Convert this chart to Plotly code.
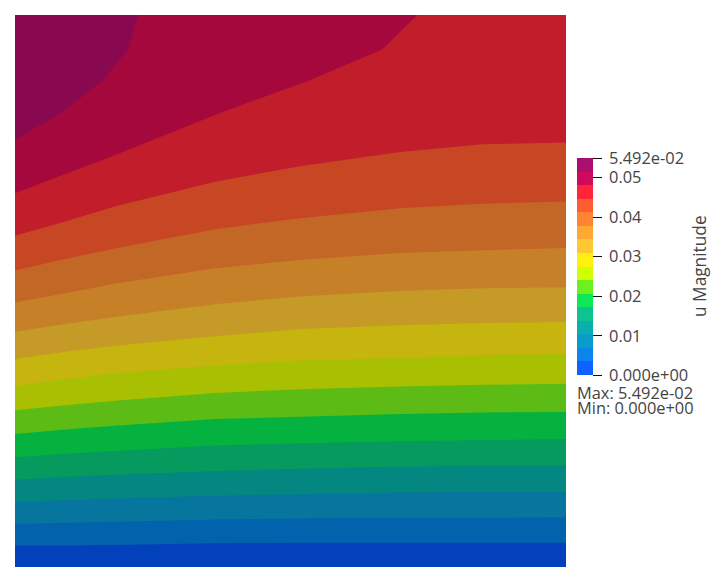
import plotly.graph_objects as go


# =====================================================
# DATA
# =====================================================

u_max = 0.05492

stations = [0.0, 0.091, 0.181, 0.363, 0.517, 0.699, 0.849, 1.0]

# contour heights along the stations, lowest band first
level_01 = [0.039, 0.039, 0.040, 0.043, 0.044, 0.044, 0.044, 0.044]
level_02 = [0.078, 0.080, 0.082, 0.086, 0.088, 0.089, 0.089, 0.090]
level_03 = [0.118, 0.121, 0.124, 0.129, 0.132, 0.135, 0.136, 0.136]
level_04 = [0.158, 0.163, 0.167, 0.174, 0.178, 0.182, 0.183, 0.184]
level_05 = [0.199, 0.205, 0.210, 0.220, 0.224, 0.228, 0.230, 0.232]
level_06 = [0.241, 0.249, 0.256, 0.268, 0.272, 0.277, 0.280, 0.281]
level_07 = [0.284, 0.293, 0.301, 0.315, 0.322, 0.327, 0.330, 0.332]
level_08 = [0.328, 0.340, 0.351, 0.365, 0.374, 0.379, 0.384, 0.386]
level_09 = [0.377, 0.390, 0.401, 0.418, 0.431, 0.438, 0.442, 0.444]
level_10 = [0.426, 0.440, 0.453, 0.476, 0.490, 0.500, 0.505, 0.507]
level_11 = [0.479, 0.496, 0.513, 0.541, 0.556, 0.569, 0.574, 0.578]
level_12 = [0.537, 0.558, 0.577, 0.612, 0.632, 0.650, 0.658, 0.662]
level_13 = [0.600, 0.626, 0.653, 0.698, 0.726, 0.752, 0.766, 0.769]

# the two top contours leave through the upper edge
level_14_x = [0.0, 0.181, 0.363, 0.535, 0.667, 0.730]
level_14_y = [0.677, 0.746, 0.819, 0.882, 0.938, 1.0]
level_15_x = [0.0, 0.085, 0.158, 0.205, 0.223]
level_15_y = [0.774, 0.824, 0.880, 0.938, 1.0]

band_colors = [
    "#0340BC", "#0362AC", "#07769F", "#048780",
    "#069A5F", "#06B23F", "#5CBC15", "#A9C002",
    "#C6B40F", "#C59A26", "#C68128", "#C36726",
    "#C74725", "#C21D2B", "#A5083C", "#880950"
]

bar_colors = [
    "#0F62FF", "#0B84EC", "#0A9CC8", "#0AAEAE",
    "#0EC48E", "#0CE858", "#6CF01E", "#D2FF00",
    "#FFF010", "#FFC832", "#FFA832", "#FF8432",
    "#FF5C32", "#FF2438", "#CF0A5C", "#A80F70"
]

tick_values = [0, 0.01, 0.02, 0.03, 0.04, 0.05, u_max]
tick_labels = ["0.000e+00", "0.01", "0.02", "0.03", "0.04", "0.05", "5.492e-02"]

levels = [
    (stations, level_01), (stations, level_02), (stations, level_03),
    (stations, level_04), (stations, level_05), (stations, level_06),
    (stations, level_07), (stations, level_08), (stations, level_09),
    (stations, level_10), (stations, level_11), (stations, level_12),
    (stations, level_13), (level_14_x, level_14_y), (level_15_x, level_15_y)
]


# =====================================================
# FIGURE
# =====================================================

WIDTH = 724
HEIGHT = 581
FONT = "Open Sans"
TEXT = "#444444"

fig = go.Figure()

# top band fills the square, every lower band is painted over it
fig.add_trace(go.Scatter(
    x=[0, 1, 1, 0, 0],
    y=[0, 0, 1, 1, 0],
    mode="none",
    fill="toself",
    fillcolor=band_colors[-1],
    hoverinfo="skip",
    showlegend=False
))

for i in range(len(levels) - 1, -1, -1):
    xs, ys = levels[i]
    fig.add_trace(go.Scatter(
        x=list(xs) + [1, 1, 0, 0],
        y=list(ys) + [1 if ys[-1] == 1 else ys[-1], 0, 0, ys[0]],
        mode="none",
        fill="toself",
        fillcolor=band_colors[i],
        hoverinfo="skip",
        showlegend=False
    ))

# colour bar
n = len(bar_colors)
scale = []
for i, c in enumerate(bar_colors):
    scale.append([i / n, c])
    scale.append([(i + 1) / n, c])

fig.add_trace(go.Scatter(
    x=[0.5, 0.5],
    y=[0.5, 0.5],
    mode="markers",
    marker=dict(
        size=1,
        opacity=0,
        color=[0, u_max],
        cmin=0,
        cmax=u_max,
        colorscale=scale,
        colorbar=dict(
            xref="container",
            yref="container",
            x=577 / WIDTH,
            xanchor="left",
            y=(HEIGHT - 395) / HEIGHT,
            yanchor="bottom",
            lenmode="pixels",
            len=217,
            thicknessmode="pixels",
            thickness=16,
            xpad=0,
            ypad=0,
            outlinewidth=0,
            ticks="outside",
            ticklen=9,
            tickwidth=1,
            tickcolor="#111111",
            tickmode="array",
            tickvals=tick_values,
            ticktext=["\u00a0" + t for t in tick_labels],
            tickfont=dict(family=FONT, size=16.4, color=TEXT)
        )
    ),
    hoverinfo="skip",
    showlegend=False
))

fig.update_layout(
    width=WIDTH,
    height=HEIGHT,
    margin=dict(l=15, r=158, t=15, b=14),
    paper_bgcolor="white",
    plot_bgcolor="white",
    xaxis=dict(range=[0, 1], visible=False),
    yaxis=dict(range=[0, 1], visible=False),
    annotations=[
        dict(
            text="u Magnitude",
            xref="paper", yref="paper",
            x=(699 - 15) / 551, y=(567 - 266) / 552,
            xanchor="center", yanchor="middle",
            textangle=-90,
            showarrow=False,
            font=dict(family=FONT, size=17.3, color=TEXT)
        ),
        dict(
            text="Max: 5.492e-02",
            xref="paper", yref="paper",
            x=(577 - 15) / 551, y=(567 - 392) / 552,
            xanchor="left", yanchor="middle",
            showarrow=False,
            xshift=-2,
            font=dict(family=FONT, size=16.4, color=TEXT)
        ),
        dict(
            text="Min: 0.000e+00",
            xref="paper", yref="paper",
            x=(577 - 15) / 551, y=(567 - 408) / 552,
            xanchor="left", yanchor="middle",
            showarrow=False,
            xshift=-2,
            font=dict(family=FONT, size=16.4, color=TEXT)
        )
    ]
)

fig.write_html(
    "out.html",
    config=dict(displayModeBar=False),
    post_script="document.body.style.margin='0';"
)
